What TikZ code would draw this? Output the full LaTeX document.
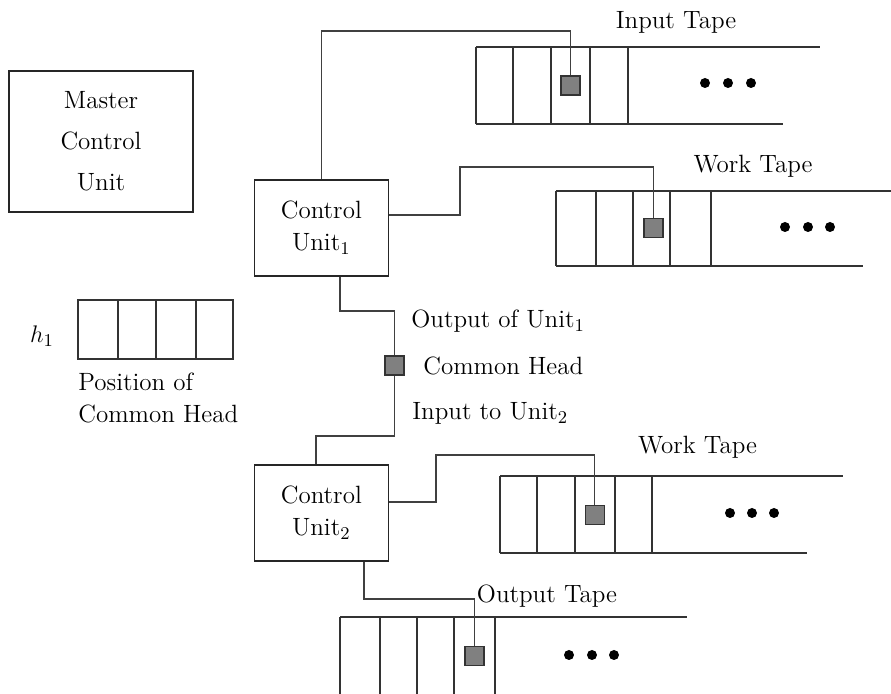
\documentclass[tikz,border=0pt]{standalone}
\usepackage{amsmath}
\usepackage{tikz}
\usetikzlibrary{calc}

\begin{document}
\begin{tikzpicture}[x=0.5pt, y=-0.5pt,
  every node/.style={font=\fontsize{12.5}{15}\selectfont},
  wire/.style={draw=black!75, line width=0.7pt},
  tapeline/.style={draw=black!80, line width=0.7pt},
  unitbox/.style={draw=black!85, line width=0.7pt, align=center, inner sep=0pt,
    minimum width=67pt, minimum height=48pt, font=\fontsize{12.5}{16}\selectfont},
  head/.style={draw=black!80, fill=black!50, line width=0.7pt, minimum size=9.5pt, inner sep=0pt},
  lbl/.style={inner sep=0pt}]
\useasboundingbox (0,0) rectangle (891,694);

% Master Control Unit
\node[unitbox, minimum width=92pt, minimum height=70.5pt, font=\fontsize{12.5}{20.5}\selectfont]
  (master) at (101,141.5) {Master\\Control\\Unit};

% Control Units
\node[unitbox] (cuA) at (321.3,228) {Control\\Unit$_1$};
\node[unitbox] (cuB) at (321.3,513) {Control\\Unit$_2$};

% Input Tape
\draw[tapeline] (476,47) -- (820,47) (476,124) -- (783,124);
\foreach \x in {476,513,551,590,628} \draw[tapeline] (\x,47) -- (\x,124);
\foreach \x in {705,728,751} \fill (\x,83) circle (2.5pt);
\node[lbl, anchor=base] (inlabel) at (676,29) {Input Tape};

% Work Tape of Unit 1
\draw[tapeline] (556,191) -- (891,191) (556,266) -- (863,266);
\foreach \x in {556,596,633,670,711} \draw[tapeline] (\x,191) -- (\x,266);
\foreach \x in {785,808,830} \fill (\x,227) circle (2.5pt);
\node[lbl, anchor=base] (wklabelA) at (753,173) {Work Tape};

% Work Tape of Unit 2
\draw[tapeline] (500,476) -- (843,476) (500,553) -- (807,553);
\foreach \x in {500,537,575,615,652} \draw[tapeline] (\x,476) -- (\x,553);
\foreach \x in {730,752,774} \fill (\x,513) circle (2.5pt);
\node[lbl, anchor=base] (wklabelB) at (697.5,454) {Work Tape};

% Output Tape
\draw[tapeline] (340,617) -- (687,617);
\foreach \x in {340,380,417,454,495} \draw[tapeline] (\x,617) -- (\x,694);
\foreach \x in {569,592,614} \fill (\x,655) circle (2.5pt);
\node[lbl, anchor=base] (outlabel) at (547,603) {Output Tape};

% Position of common head
\draw[tapeline] (78,300) rectangle (233,359);
\foreach \x in {118,156,196} \draw[tapeline] (\x,300) -- (\x,359);
\node[lbl, anchor=base] (hlabel) at (42,343) {$h_1$};
\node[lbl, anchor=north west, align=left, font=\fontsize{12.5}{15.8}\selectfont]
  (poslabel) at (78,373) {Position of\\Common Head};

% Heads
\node[head] (inhead) at (570.5,85.5) {};
\node[head] (wkheadA) at (653.3,228) {};
\node[head] (comhead) at (394.5,365.7) {};
\node[head] (wkheadB) at (594.7,515) {};
\node[head] (outhead) at (474.5,656) {};

% Common head labels
\node[lbl, anchor=base west] (outof) at (411,328) {Output of Unit$_1$};
\node[lbl, anchor=base west] (comlabel) at (423,375) {Common Head};
\node[lbl, anchor=base west] (into) at (412,420) {Input to Unit$_2$};

% Wires
\draw[wire] (cuA.north) -- (cuA.north |- 0,31) -| (inhead.north);
\draw[wire] (cuA.east |- 0,215) -| (460,167) -| (wkheadA.north);
\draw[wire] (cuA.south -| 340,0) |- (comhead.north |- 0,311) -- (comhead.north);
\draw[wire] (comhead.south) |- (316,436) -- (cuB.north -| 316,0);
\draw[wire] (cuB.east |- 0,502) -| (436,455) -| (wkheadB.north);
\draw[wire] (cuB.south -| 364,0) |- (outhead.north |- 0,599) -- (outhead.north);

\end{tikzpicture}
\end{document}
